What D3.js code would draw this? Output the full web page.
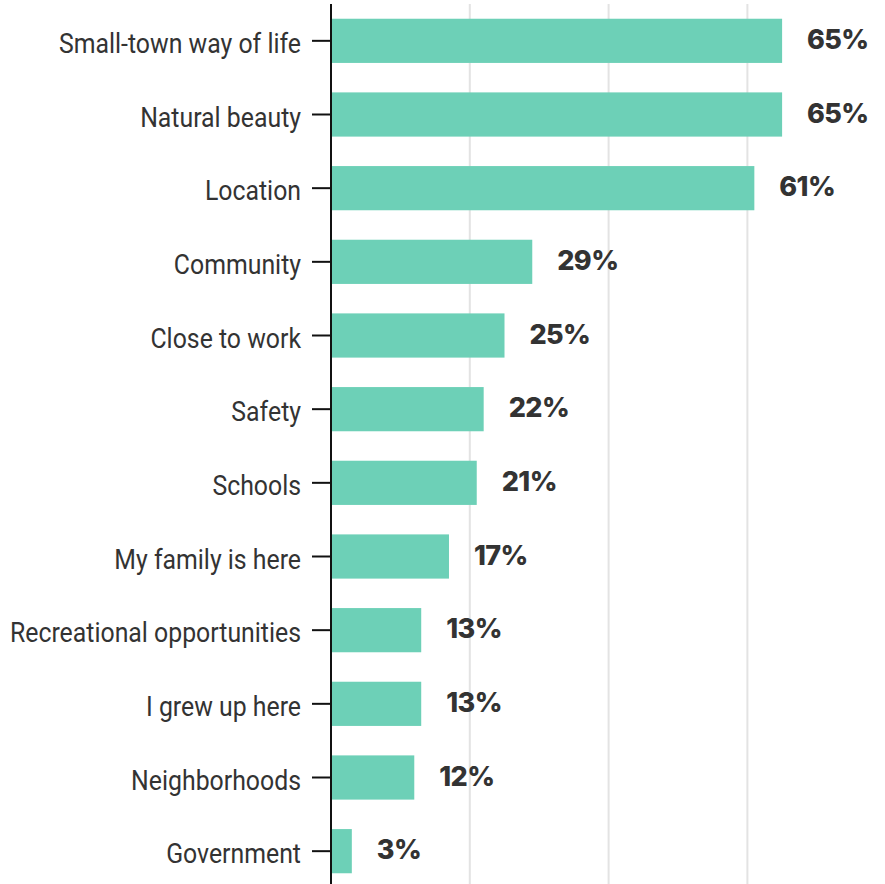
<!DOCTYPE html>
<html>
<head>
<meta charset="utf-8">
<script src="https://cdn.jsdelivr.net/npm/d3@7"></script>
<style>
  html, body { margin: 0; padding: 0; background: #fff; }
  svg { display: block; }
</style>
</head>
<body>
<svg id="chart" width="885" height="884"></svg>
<script>
// Reasons residents give for living in the community (% of respondents)
const categories = [
  "Small-town way of life", "Natural beauty", "Location", "Community",
  "Close to work", "Safety", "Schools", "My family is here",
  "Recreational opportunities", "I grew up here", "Neighborhoods", "Government"
];
const values = [65, 65, 61, 29, 25, 22, 21, 17, 13, 13, 12, 3];
const gridTicks = [20, 40, 60];

const width = 885, height = 884;
const margin = { top: 4, right: 0, bottom: -4, left: 331 };

const svg = d3.select("#chart");

const x = d3.scaleLinear()
  .domain([0, 70])
  .range([margin.left, margin.left + 70 * 6.94]);

const y = d3.scaleBand()
  .domain(categories)
  .range([margin.top, height - margin.bottom])
  .paddingInner(0.4)
  .paddingOuter(0.2);

// vertical gridlines
svg.append("g")
  .selectAll("line")
  .data(gridTicks)
  .join("line")
  .attr("x1", d => x(d)).attr("x2", d => x(d))
  .attr("y1", y.range()[0]).attr("y2", height)
  .attr("stroke", "#e3e3e3")
  .attr("stroke-width", 2);

// bars
svg.append("g")
  .selectAll("rect")
  .data(values)
  .join("rect")
  .attr("x", x(0))
  .attr("y", (d, i) => y(categories[i]))
  .attr("width", d => x(d) - x(0))
  .attr("height", y.bandwidth())
  .attr("fill", "#6dd0b7");

// value labels
svg.append("g")
  .selectAll("text")
  .data(values)
  .join("text")
  .attr("x", d => x(d) + 25)
  .attr("y", (d, i) => y(categories[i]) + y.bandwidth() / 2 + 8)
  .attr("font-family", "Inter, 'Open Sans', sans-serif")
  .attr("font-weight", 800)
  .attr("font-size", 27)
  .attr("letter-spacing", -0.6)
  .attr("fill", "#333")
  .text(d => d + "%");

// category axis
const axis = svg.append("g")
  .attr("transform", `translate(${x(0)},0)`)
  .call(d3.axisLeft(y).tickSize(19).tickPadding(11));

axis.select(".domain")
  .attr("stroke", "#111")
  .attr("stroke-width", 2)
  .attr("d", `M0,${y.range()[0]}V${height}`);
axis.selectAll(".tick line")
  .attr("stroke", "#111")
  .attr("stroke-width", 2);
axis.selectAll(".tick text")
  .attr("font-family", "Roboto, sans-serif")
  .attr("font-size", 27)
  .attr("fill", "#333")
  .attr("dy", null)
  .attr("y", 12)
  .each(function () {
    // narrow the face to a condensed width, anchored at the label end
    const t = d3.select(this);
    const xEnd = +t.attr("x");
    t.attr("transform", `translate(${xEnd},0) scale(0.92,1) translate(${-xEnd},0)`);
  });
</script>
</body>
</html>
